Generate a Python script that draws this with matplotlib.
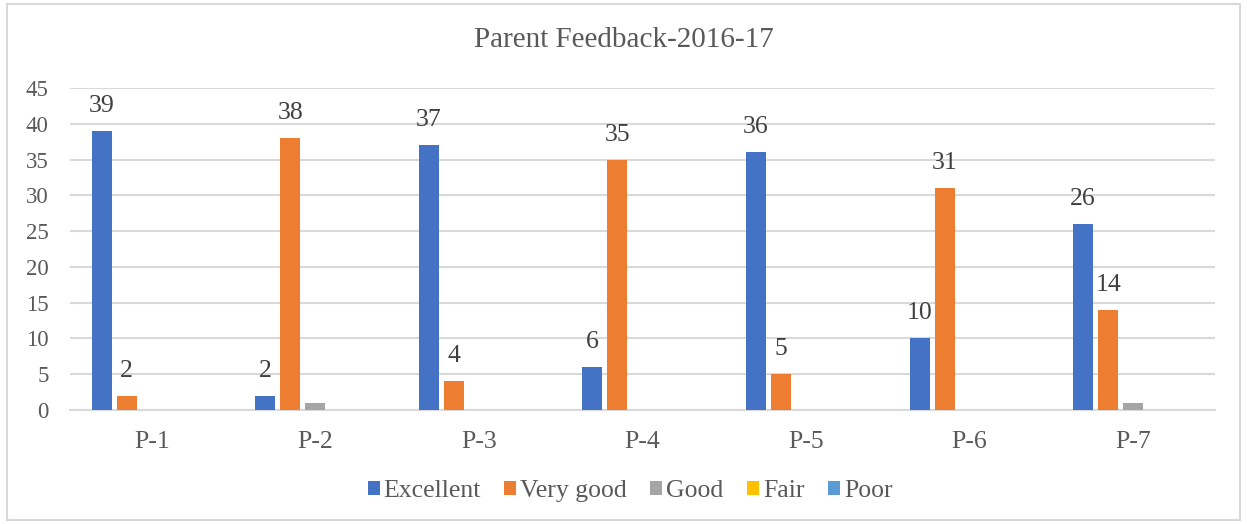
import matplotlib.pyplot as plt
import numpy as np
from matplotlib.patches import Rectangle

categories = ["P-1", "P-2", "P-3", "P-4", "P-5", "P-6", "P-7"]
series_names = ["Excellent", "Very good", "Good", "Fair", "Poor"]
excellent = [39, 2, 37, 6, 36, 10, 26]
very_good = [2, 38, 4, 35, 5, 31, 14]
good = [0, 1, 0, 0, 0, 0, 1]
fair = [0, 0, 0, 0, 0, 0, 0]
poor = [0, 0, 0, 0, 0, 0, 0]
yticks = [0, 5, 10, 15, 20, 25, 30, 35, 40, 45]

colors = ["#4472C4", "#ED7D31", "#A5A5A5", "#FFC000", "#5B9BD5"]
labelled = [True, True, False, False, False]

plt.rcParams["font.family"] = ["Liberation Serif", "DejaVu Serif"]

fig = plt.figure(figsize=(12.47, 5.24), dpi=100)
ax = fig.add_axes([70 / 1247, 1 - 410 / 524, (1215 - 70) / 1247, (410 - 88) / 524])

fig.patches.append(Rectangle((7 / 1247, 4 / 524), (1240 - 7) / 1247, (520 - 4) / 524,
                             transform=fig.transFigure, fill=False,
                             edgecolor="#D9D9D9", linewidth=1.5))

x = np.arange(len(categories))
bar_w = 0.122
step = 0.153
all_series = [excellent, very_good, good, fair, poor]
for i, (name, vals, col) in enumerate(zip(series_names, all_series, colors)):
    pos = x + (i - 2) * step
    bars = ax.bar(pos, vals, width=bar_w, color=col, label=name, zorder=3)
    if labelled[i]:
        for b, v in zip(bars, vals):
            if v > 0:
                ax.annotate(str(v), (b.get_x() + b.get_width() / 2, v),
                            xytext=(0, 18), textcoords="offset points",
                            ha="center", va="center", fontsize=18.5,
                            color="#404040")

ax.set_xlim(-0.5, len(categories) - 0.5)
ax.set_ylim(0, 45)
ax.set_yticks(yticks)
ax.set_xticks(x)
ax.set_xticklabels(categories)
ax.yaxis.grid(True, color="#D9D9D9", linewidth=1.5, zorder=0)
ax.set_axisbelow(True)
for s in ["top", "right", "left"]:
    ax.spines[s].set_visible(False)
ax.spines["bottom"].set_color("#D9D9D9")
ax.spines["bottom"].set_linewidth(1.5)
ax.tick_params(axis="both", length=0, colors="#595959")
ax.tick_params(axis="x", pad=15, labelsize=18.5)
ax.tick_params(axis="y", pad=15.5, labelsize=16.5)

fig.text(0.5, 1 - 40 / 524, "Parent Feedback-2016-17", ha="center", va="center",
         fontsize=21, color="#595959")

fig.legend(loc="center", bbox_to_anchor=(630 / 1247, 1 - 491 / 524), ncol=5,
           frameon=False, fontsize=18.5, labelcolor="#595959",
           handlelength=0.47, handleheight=0.47, handletextpad=0.16,
           columnspacing=0.9)

fig.savefig("out.png", dpi=100)
